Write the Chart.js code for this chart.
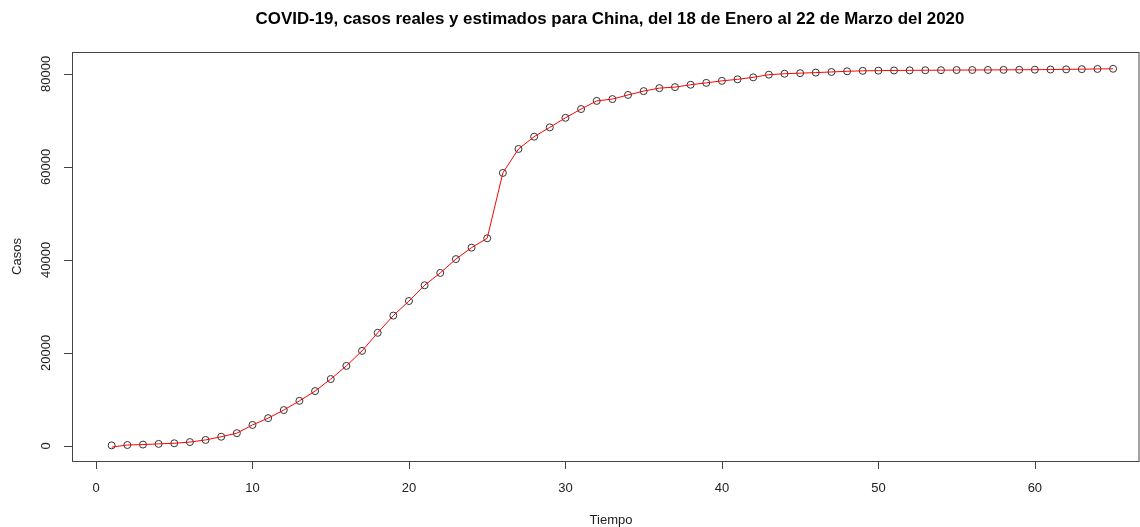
<!DOCTYPE html>
<html>
<head>
<meta charset="utf-8">
<title>COVID-19 China</title>
<script src="https://cdn.jsdelivr.net/npm/chart.js@4.4.0/dist/chart.umd.min.js"></script>
<style>
  html, body { margin: 0; padding: 0; background: #fff; overflow: hidden; }
  canvas { display: block; }
</style>
</head>
<body>
<canvas id="grafico" width="1140" height="527"></canvas>
<script>
// Días desde el 18 de enero (1 = 18/01/2020, 65 = 22/03/2020)
const dias = [1, 2, 3, 4, 5, 6, 7, 8, 9, 10, 11, 12, 13, 14, 15, 16, 17, 18, 19, 20,
  21, 22, 23, 24, 25, 26, 27, 28, 29, 30, 31, 32, 33, 34, 35, 36, 37, 38, 39, 40,
  41, 42, 43, 44, 45, 46, 47, 48, 49, 50, 51, 52, 53, 54, 55, 56, 57, 58, 59, 60,
  61, 62, 63, 64, 65];

// Casos reales acumulados (círculos)
const casosReales = [121, 198, 291, 440, 571, 830, 1287, 1975, 2744, 4515,
  5974, 7711, 9692, 11791, 14380, 17205, 20438, 24324, 28018, 31161,
  34546, 37198, 40171, 42638, 44653, 58700, 63851, 66492, 68500, 70548,
  72436, 74185, 74576, 75465, 76288, 76936, 77150, 77658, 78064, 78497,
  78824, 79251, 79824, 80026, 80151, 80270, 80409, 80552, 80651, 80695,
  80735, 80754, 80778, 80793, 80813, 80824, 80844, 80860, 80881, 80894,
  80928, 80967, 81008, 81054, 81093];

// Casos estimados (línea roja)
const casosEstimados = [-250, 198, 291, 440, 571, 830, 1287, 1975, 2744, 4515,
  5974, 7711, 9692, 11791, 14380, 17205, 20438, 24324, 28018, 31161,
  34546, 37198, 40171, 42638, 44653, 58700, 63851, 66492, 68500, 70548,
  72436, 74185, 74576, 75465, 76288, 76936, 77150, 77658, 78064, 78497,
  78824, 79251, 79824, 80026, 80151, 80270, 80409, 80552, 80651, 80695,
  80735, 80754, 80778, 80793, 80813, 80824, 80844, 80860, 80881, 80894,
  80928, 80967, 81008, 81054, 81093];

const ticksX = [0, 10, 20, 30, 40, 50, 60];
const ticksY = [0, 20000, 40000, 60000, 80000];

const titulo = 'COVID-19, casos reales y estimados para China, del 18 de Enero al 22 de Marzo del 2020';
const etiquetaX = 'Tiempo';
const etiquetaY = 'Casos';

const FUENTE = "'Liberation Sans', Arial, sans-serif";

// Ejes al estilo de R base: caja, marcas hacia fuera y etiquetas verticales en Y
const ejesR = {
  id: 'ejesR',
  afterDraw(chart) {
    const { ctx, chartArea: a, scales } = chart;
    const sx = scales.x, sy = scales.y;
    ctx.save();
    ctx.strokeStyle = '#444';
    ctx.fillStyle = '#222';
    ctx.lineWidth = 1;

    // caja (en R el borde derecho queda casi en el límite de la imagen)
    const derecha = chart.width - 1;
    ctx.strokeRect(a.left + 0.5, a.top + 0.5, derecha - a.left - 0.5, a.bottom - a.top);

    // eje X
    const x0 = Math.round(sx.getPixelForValue(ticksX[0])) + 0.5;
    const x1 = Math.round(sx.getPixelForValue(ticksX[ticksX.length - 1])) + 0.5;
    ctx.beginPath();
    ctx.moveTo(x0, a.bottom + 0.5);
    ctx.lineTo(x1, a.bottom + 0.5);
    ticksX.forEach(v => {
      const px = Math.round(sx.getPixelForValue(v)) + 0.5;
      ctx.moveTo(px, a.bottom);
      ctx.lineTo(px, a.bottom + 8);
    });
    ctx.stroke();
    ctx.font = '13px ' + FUENTE;
    ctx.textAlign = 'center';
    ctx.textBaseline = 'middle';
    ticksX.forEach(v => {
      ctx.fillText(String(v), sx.getPixelForValue(v), a.bottom + 27);
    });

    // eje Y
    const y0 = Math.round(sy.getPixelForValue(ticksY[0])) + 0.5;
    const y1 = Math.round(sy.getPixelForValue(ticksY[ticksY.length - 1])) + 0.5;
    ctx.beginPath();
    ctx.moveTo(a.left + 0.5, y0);
    ctx.lineTo(a.left + 0.5, y1);
    ticksY.forEach(v => {
      const py = Math.round(sy.getPixelForValue(v)) + 0.5;
      ctx.moveTo(a.left, py);
      ctx.lineTo(a.left - 8, py);
    });
    ctx.stroke();
    ticksY.forEach(v => {
      ctx.save();
      ctx.translate(a.left - 26, sy.getPixelForValue(v));
      ctx.rotate(-Math.PI / 2);
      ctx.fillText(String(v), 0, 0);
      ctx.restore();
    });

    // títulos de ejes
    ctx.fillText(etiquetaX, 611, a.bottom + 59);
    ctx.save();
    ctx.translate(17, (a.top + a.bottom) / 2);
    ctx.rotate(-Math.PI / 2);
    ctx.fillText(etiquetaY, 0, 0);
    ctx.restore();

    // título principal
    ctx.font = 'bold 16.9px ' + FUENTE;
    ctx.fillStyle = '#000';
    ctx.fillText(titulo, 610, 19);
    ctx.restore();
  }
};

new Chart(document.getElementById('grafico'), {
  type: 'scatter',
  data: {
    datasets: [
      {
        label: 'Reales',
        data: dias.map((d, i) => ({ x: d, y: casosReales[i] })),
        showLine: false,
        pointStyle: 'circle',
        pointRadius: 3.5,
        pointBorderWidth: 1,
        pointBorderColor: '#333',
        pointBackgroundColor: 'rgba(0,0,0,0)',
        clip: false,
        order: 2
      },
      {
        label: 'Estimados',
        type: 'line',
        data: dias.map((d, i) => ({ x: d, y: casosEstimados[i] })),
        borderColor: '#ff0000',
        borderWidth: 1,
        pointRadius: 0,
        tension: 0,
        fill: false,
        clip: false,
        order: 1
      }
    ]
  },
  options: {
    responsive: false,
    animation: false,
    layout: { padding: { left: 72, right: 1, top: 52, bottom: 66 } },
    scales: {
      x: { type: 'linear', min: -1.535, max: 66.4, display: false },
      y: { type: 'linear', min: -3240, max: 84700, display: false }
    },
    plugins: {
      legend: { display: false },
      tooltip: { enabled: false },
      title: { display: false }
    }
  },
  plugins: [ejesR]
});
</script>
</body>
</html>
